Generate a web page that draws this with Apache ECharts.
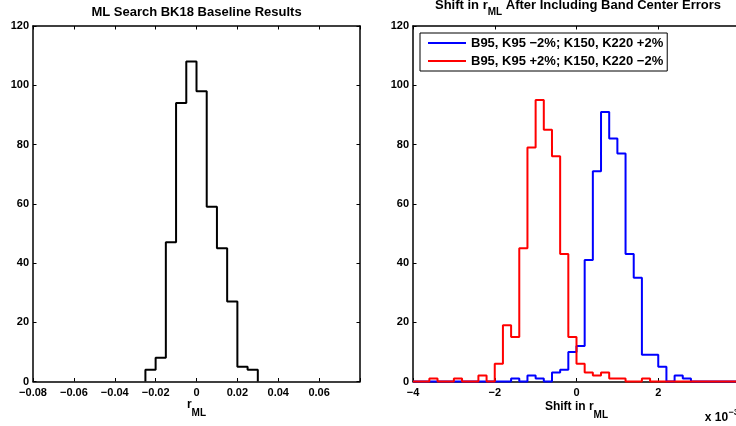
<!DOCTYPE html>
<html><head><meta charset="utf-8">
<script src="https://cdn.jsdelivr.net/npm/echarts@6/dist/echarts.min.js"></script>
<style>html,body{margin:0;padding:0;background:#fff}#c{width:736px;height:426px}</style>
</head><body><div id="c"></div>
<script>
// ---------- data ----------
// Left panel: histogram of r_ML (bin edges start + width)
const leftBinStart = -0.025;
const leftBinWidth = 0.005;
const leftCounts = [4, 8, 47, 94, 108, 98, 59, 45, 27, 5, 4];
// Right panel: shift in r_ML (units of 1e-3)
const rightBinStart = -4;
const rightBinWidth = 0.2;
const blueCounts = [0,0,0,0,0,0,0,0,0,0, 0,0,1,0,2,1,0,3,4,10, 12,41,71,91,82,77,43,35,9,9, 5,0,2,1,0,0,0,0,0,0];
const redCounts  = [0,0,1,0,0,1,0,0,2,0, 6,19,15,45,79,95,85,76,43,15, 6,3,2,3,1,1,0,0,1,0, 0,0,0,0,0,0,0,0,0,0];
const seriesNames = ['B95, K95 \u22122%; K150, K220 +2%', 'B95, K95 +2%; K150, K220 \u22122%'];
const leftTitle = 'ML Search BK18 Baseline Results';
const rightTitleA = 'Shift in r', rightTitleSub = 'ML', rightTitleB = ' After Including Band Center Errors';
const leftXLabel = 'r', rightXLabel = 'Shift in r', xSub = 'ML';
const expLabel = 'x 10', expSup = '\u22123';

// ---------- helpers ----------
const FONT = "'Liberation Sans', Arial, Helvetica, sans-serif";
function stairs(start, width, counts) {
  const r = (v) => Number(v.toFixed(6));
  const pts = [[r(start), 0]];
  counts.forEach((c, i) => pts.push([r(start + i * width), c]));
  const end = r(start + counts.length * width);
  pts.push([end, counts[counts.length - 1]]);
  pts.push([end, 0]);
  return pts;
}
const mctx = document.createElement('canvas').getContext('2d');
function tw(t, size) { mctx.font = 'bold ' + size + 'px ' + FONT; return mctx.measureText(t).width; }
function txt(t, x, baseline, size, align) {
  return { type: 'text', x: x, y: baseline - 0.34 * size,
    style: { text: t, fill: '#000', fontSize: size, fontWeight: 'bold', fontFamily: FONT,
             align: align || 'left', verticalAlign: 'middle' } };
}
function subLabel(parts, cx, base, subBase, size, subSize) {
  const w0 = tw(parts[0], size), w1 = tw(parts[1], subSize), w2 = parts[2] ? tw(parts[2], size) : 0;
  let x = cx - (w0 + w1 + w2) / 2;
  const out = [txt(parts[0], x, base, size)];
  x += w0;
  out.push(txt(parts[1], x, subBase, subSize));
  x += w1;
  if (parts[2]) out.push(txt(parts[2], x, base, size));
  return out;
}
const minus = (s) => s.replace('-', '\u2212');
const axisLine = { show: true, onZero: false, lineStyle: { color: '#000', width: 1.5 } };
const tick = { show: true, inside: true, length: 3.5, lineStyle: { color: '#000', width: 1 } };
const lab = { color: '#000', fontSize: 11, fontWeight: 'bold', fontFamily: FONT };

const leftXFmt = (v) => Math.abs(v - 0.08) < 1e-9 ? '' : (Math.abs(v) < 1e-9 ? '0' : minus(v.toFixed(2)));
const rightXFmt = (v) => v >= 4 ? '' : (v === 0 ? '0' : minus(String(v)));

const grids = [
  { left: 33, top: 26, width: 327, height: 355.5, outerBoundsMode: 'none', containLabel: false },
  { left: 413, top: 26, width: 327, height: 355.5, outerBoundsMode: 'none', containLabel: false }
];
function xPair(gi, min, max, interval, fmt) {
  return [
    { gridIndex: gi, type: 'value', position: 'bottom', min, max, interval,
      axisLine, axisTick: tick, splitLine: { show: false },
      axisLabel: Object.assign({ margin: 6, formatter: fmt }, lab) },
    { gridIndex: gi, type: 'value', position: 'top', min, max, interval,
      axisLine, axisTick: tick, splitLine: { show: false }, axisLabel: { show: false } }
  ];
}
function yPair(gi) {
  return [
    { gridIndex: gi, type: 'value', position: 'left', min: 0, max: 120, interval: 20,
      axisLine, axisTick: tick, splitLine: { show: false },
      axisLabel: Object.assign({ margin: 4 }, lab) },
    { gridIndex: gi, type: 'value', position: 'right', min: 0, max: 120, interval: 20,
      axisLine, axisTick: tick, splitLine: { show: false }, axisLabel: { show: false } }
  ];
}

const graphics = [].concat(
  [txt(leftTitle, 196.5, 16.7, 13, 'center')],
  subLabel([rightTitleA, rightTitleSub, rightTitleB], 578, 10.3, 15.8, 13, 10),
  subLabel([leftXLabel, xSub, ''], 196.5, 408.8, 416.5, 12, 10),
  subLabel([rightXLabel, xSub, ''], 576.5, 410.8, 418.3, 12, 10),
  [txt(expLabel, 704.7, 421.7, 12), txt(expSup, 704.7 + tw(expLabel, 12) + 0.5, 415.5, 9)]
);

const chart = echarts.init(document.getElementById('c'), null, { renderer: 'canvas' });
chart.setOption({
  animation: false,
  backgroundColor: '#fff',
  grid: grids,
  xAxis: [].concat(xPair(0, -0.08, 0.08, 0.02, leftXFmt), xPair(1, -4, 4, 2, rightXFmt)),
  yAxis: [].concat(yPair(0), yPair(1)),
  legend: {
    data: seriesNames.map((n) => ({ name: n, itemStyle: { opacity: 0 } })),
    orient: 'vertical', left: 420, top: 33,
    padding: [3, 4, 3, 7], itemGap: 4, itemWidth: 38, itemHeight: 14,
    backgroundColor: '#fff', borderColor: '#000', borderWidth: 1, borderRadius: 0,
    textStyle: { color: '#000', fontSize: 13, fontWeight: 'bold', fontFamily: FONT, lineHeight: 14 },
    selectedMode: false
  },
  series: [
    { type: 'line', name: 'baseline', xAxisIndex: 0, yAxisIndex: 0, step: 'end', showSymbol: false, symbol: 'none',
      clip: false, lineStyle: { color: '#000', width: 2 }, data: stairs(leftBinStart, leftBinWidth, leftCounts) },
    { type: 'line', name: seriesNames[0], xAxisIndex: 2, yAxisIndex: 2, step: 'end', showSymbol: false, symbol: 'none',
      clip: false, color: '#0000ff', lineStyle: { color: '#0000ff', width: 2 }, data: stairs(rightBinStart, rightBinWidth, blueCounts) },
    { type: 'line', name: seriesNames[1], xAxisIndex: 2, yAxisIndex: 2, step: 'end', showSymbol: false, symbol: 'none',
      clip: false, color: '#ff0000', lineStyle: { color: '#ff0000', width: 2 }, data: stairs(rightBinStart, rightBinWidth, redCounts) }
  ],
  graphic: graphics
});
</script>
</body></html>
